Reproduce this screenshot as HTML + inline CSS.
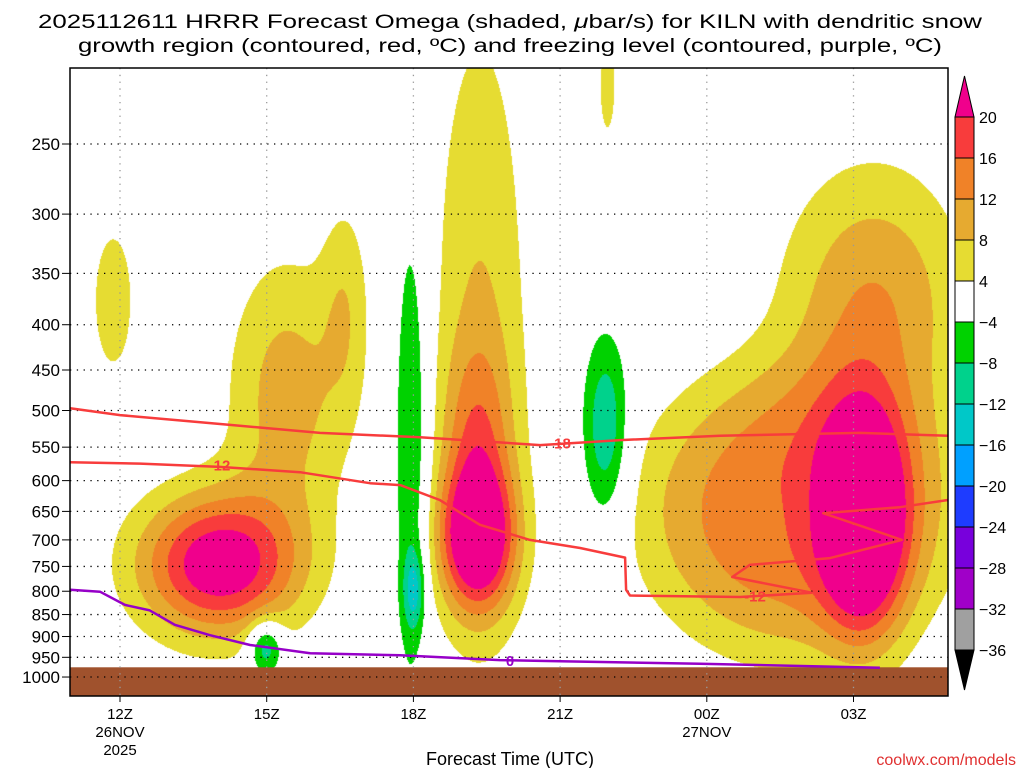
<!DOCTYPE html>
<html><head><meta charset="utf-8"><style>
html,body{margin:0;padding:0;background:#fff;}
#wrap{position:relative;width:1024px;height:768px;overflow:hidden;font-family:"Liberation Sans",sans-serif;}
#field{position:absolute;left:70px;top:68px;}
#ov{position:absolute;left:0;top:0;}
</style></head><body>
<div id="wrap">
<canvas id="field" width="878" height="628"></canvas>
<svg id="ov" width="1024" height="768"></svg>
</div>
<script>
// ---- data ----
const yTickP = [250,300,350,400,450,500,550,600,650,700,750,800,850,900,950,1000];
const xTickH = [0,3,6,9,12,15];
const xTickLab = ["12Z","15Z","18Z","21Z","00Z","03Z"];
const xTickSub = [["26NOV","2025"],[],[],[],["27NOV"],[]];
// omega blobs (hours since 12Z, hPa center, sigma hours, sigma lnp, amplitude ubar/s, shape exponent)
const blobT  = [2.0, 3.4, 4.6, -0.15, 7.3, 7.35, 7.3, 15.2, 13.8, 15.4, 9.96, 5.95, 6.0, 9.92, 2.97];
const blobP  = [745, 480, 380, 375, 700, 400, 540, 670, 650, 380, 215, 555, 797, 525, 925];
const blobST = [1.15,0.85,0.35,0.33,0.55,0.7,0.5,0.6,2.5,1.3,0.13,0.25,0.15,0.33,0.25];
const blobSP = [0.13,0.25,0.2,0.15,0.13,0.6,0.18,0.2,0.3,0.25,0.1,0.45,0.07,0.17,0.05];
const blobA  = [24, 10, 6, 7, 24, 8, 9, 24, 15, 12, 7, -9, -10, -12, -13];
const blobQ  = [2,2,2,2,2,2,2,2,3,2,2,2,2,2,2];
const levels = [-36,-32,-28,-24,-20,-16,-12,-8,-4,4,8,12,16,20];
const levelColors = ["#000000","#a0a0a0","#a000c8","#7800dc","#1e3cff","#00a0ff","#00c8c8","#00d28c","#00d200","#ffffff","#e6dc32","#e6aa30","#f08228","#f83c3c","#f0008c"];
// dendritic -18 line
const m18T = [-1.02,0,2.25,4.09,6.13,8.59,10.23,12.27,15.13,16.93];
const m18P = [497,506,519,530,536,547,540,534,530,534];
// dendritic -12 line
const m12T = [-1.02,0.41,2.04,3.68,5.11,5.73,6.54,7.36,8.38,9.41,10.33,10.35,10.43,12.68,14.15,12.52,12.88,14.52,15.99,14.38,15.95,16.93];
const m12P = [572,574,579,587,604,607,631,673,700,715,733,797,809,812,803,771,747,734,700,653,643,631];
// freezing level 0C
const frzT = [-1.02,-0.41,0.1,0.61,1.12,1.84,2.66,3.89,5.73,7.77,9.0,11.86,15.54];
const frzP = [797,801,829,841,873,897,920,940,945,957,960,966,976];
const groundP = 975;

// ---- axes ----
const X0=70, X1=948, Y0=68, Y1=696;
function xOf(t){return 120 + t*48.9;}
function tOf(x){return (x-120)/48.9;}
function yOf(p){return 144 + 384.5*Math.log(p/250);}
function lnpOf(y){return Math.log(250) + (y-144)/384.5;}

function field(t,lnp){
  let v=0;
  for(let i=0;i<blobT.length;i++){
    const dt=(t-blobT[i])/blobST[i];
    const dp=(lnp-Math.log(blobP[i]))/blobSP[i];
    const r=Math.sqrt(dt*dt+dp*dp);
    v+=blobA[i]*Math.exp(-0.5*Math.pow(r,blobQ[i]));
  }
  return v;
}
function hex(c){return [parseInt(c.substr(1,2),16),parseInt(c.substr(3,2),16),parseInt(c.substr(5,2),16)];}
const rgb = levelColors.map(hex);
function colorIdx(v){let k=0;while(k<levels.length&&v>=levels[k])k++;return k;}

const cv=document.getElementById('field');
const ctx=cv.getContext('2d');
const W=cv.width,H=cv.height;
const img=ctx.createImageData(W,H);
for(let py=0;py<H;py++){
  const lnp=lnpOf(py+Y0);
  for(let px=0;px<W;px++){
    const c=rgb[colorIdx(field(tOf(px+X0),lnp))];
    const o=(py*W+px)*4;
    img.data[o]=c[0];img.data[o+1]=c[1];img.data[o+2]=c[2];img.data[o+3]=255;
  }
}
ctx.putImageData(img,0,0);

// ---- overlay ----
const NS="http://www.w3.org/2000/svg";
const svg=document.getElementById('ov');
function mk(tag,attrs,parent){const e=document.createElementNS(NS,tag);for(const k in attrs)e.setAttribute(k,attrs[k]);(parent||svg).appendChild(e);return e;}

const ground=mk('rect',{x:X0,y:yOf(groundP),width:X1-X0,height:Y1-yOf(groundP),fill:'#a0522d'});



const grid=mk('g',{});


yTickP.forEach(p=>{
  const y=yOf(p);
  const l=mk('line',{x1:X0,x2:X1,y1:y,y2:y,stroke:'#000','stroke-width':1.3,'stroke-dasharray':'1.3,5.5'},grid);
  
  
  const tk=mk('line',{x1:X0-8,x2:X0,y1:y,y2:y,stroke:'#000','stroke-width':1},svg);
  
  
  const tx=mk('text',{x:X0-10,y:y+6,'text-anchor':'end','font-size':17,fill:'#000'});
  tx.textContent=p;
  
  
});
xTickH.forEach((h,i)=>{
  const x=xOf(h);
  const l=mk('line',{x1:x,x2:x,y1:Y0,y2:Y1,stroke:'#999','stroke-width':1.3,'stroke-dasharray':'1.3,5.5'},grid);
  
  
  const tk=mk('line',{x1:x,x2:x,y1:Y1,y2:Y1+6,stroke:'#000','stroke-width':1});
  
  
  const lines=[xTickLab[i]].concat(xTickSub[i]);
  lines.forEach((s,j)=>{
    const tx=mk('text',{x:x,y:719+j*18,'text-anchor':'middle','font-size':15,fill:'#000'});
    tx.textContent=s;
    
    
  });
});

function poly(T,P,color,name){
  const pts=T.map((t,i)=>xOf(t).toFixed(1)+','+yOf(P[i]).toFixed(1)).join(' ');
  const e=mk('polyline',{points:pts,fill:'none',stroke:color,'stroke-width':2.5,'stroke-linejoin':'round'});
  
  
}
poly(m18T,m18P,'#f83c3c','dendritic-minus18-contour');
poly(m12T,m12P,'#f83c3c','dendritic-minus12-contour');
poly(frzT,frzP,'#9600c8','freezing-level-contour');

function clabel(t,p,s,color,name){
  const x=xOf(t),y=yOf(p);
  const tx=mk('text',{x:x,y:y+5,'text-anchor':'middle','font-size':15,'font-weight':'bold',fill:color});
  tx.textContent=s;
  
  
}
clabel(tOf(560),545,'-18','#f83c3c','contour-label-minus18');
clabel(tOf(222),577,'12','#f83c3c','contour-label-12');
clabel(tOf(755),811,'-12','#f83c3c','contour-label-minus12');
clabel(tOf(510),959,'0','#9600c8','contour-label-0');

const fr=mk('rect',{x:X0,y:Y0,width:X1-X0,height:Y1-Y0,fill:'none',stroke:'#000','stroke-width':1.5});



const cb=mk('g',{});


const cbX=955,cbW=19,cbTop=117,cbStep=41;
for(let k=levels.length-1;k>=1;k--){
  const y=cbTop+(levels.length-1-k)*cbStep;
  const r=mk('rect',{x:cbX,y:y,width:cbW,height:cbStep,fill:levelColors[k],stroke:'#000','stroke-width':1},cb);
  
  
}
const tri1=mk('polygon',{points:`${cbX},${cbTop} ${cbX+cbW},${cbTop} ${cbX+cbW/2},76`,fill:levelColors[14],stroke:'#000','stroke-width':1},cb);


const yb=cbTop+13*cbStep;
const tri2=mk('polygon',{points:`${cbX},${yb} ${cbX+cbW},${yb} ${cbX+cbW/2},690`,fill:'#000',stroke:'#000','stroke-width':1},cb);


for(let k=levels.length-1;k>=0;k--){
  const y=cbTop+(levels.length-1-k)*cbStep;
  const tx=mk('text',{x:979,y:y+6,'font-size':16,fill:'#000'},cb);
  tx.textContent=levels[k]<0?'\u2212'+(-levels[k]):String(levels[k]);
  
  
}

const t1=mk('text',{x:38,y:28,'font-size':19,textLength:944,lengthAdjust:'spacingAndGlyphs',fill:'#000'});
t1.innerHTML='2025112611 HRRR Forecast Omega (shaded, <tspan font-style="italic">\u03bc</tspan>bar/s) for KILN with dendritic snow';


const t2=mk('text',{x:78,y:52,'font-size':19,textLength:864,lengthAdjust:'spacingAndGlyphs',fill:'#000'});
t2.textContent='growth region (contoured, red, \u00baC) and freezing level (contoured, purple, \u00baC)';


const xt=mk('text',{x:510,y:765,'text-anchor':'middle','font-size':18,fill:'#000'});
xt.textContent='Forecast Time (UTC)';


const cr=mk('text',{x:1016,y:765,'text-anchor':'end','font-size':16,fill:'#e03030'});
cr.textContent='coolwx.com/models';


</script>
</body></html>
